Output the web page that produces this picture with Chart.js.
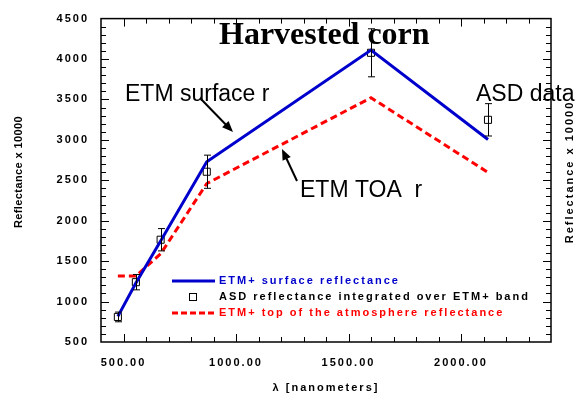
<!DOCTYPE html>
<html><head><meta charset="utf-8">
<script src="https://cdn.jsdelivr.net/npm/chart.js@4/dist/chart.umd.min.js"></script>
<style>html,body{margin:0;padding:0;background:#fff}#wrap{width:578px;height:402px}</style>
</head><body><div id="wrap"><canvas id="c" width="578" height="402"></canvas></div>
<script>
// ---- data ----
const wavelengths = [475, 555, 665, 870, 1600, 2120];
const surfaceRefl = [817, 1230, 1750, 2728, 4110, 3004];
const toaRefl     = [1317, 1317, 1590, 2460, 3521, 2598];
const asdRefl     = [810, 1240, 1765, 2606, 4077, 3248];
const asdErr      = [60, 95, 138, 205, 297, 200];
const xTickValues = [500, 1000, 1500, 2000];
const yTickValues = [500, 1000, 1500, 2000, 2500, 3000, 3500, 4000, 4500];
const legendLabels = ['ETM+ surface reflectance', 'ASD reflectance integrated over ETM+ band', 'ETM+ top of the atmosphere reflectance'];
const yTitle = 'Reflectance x 10000';

const SANS = '"Liberation Sans", Arial, sans-serif';
const SERIF = '"Liberation Serif", "Times New Roman", serif';
const BLUE = '#0000CC', RED = '#FF0000';

function arrow(ctx, x1, y1, x2, y2) {
  const a = Math.atan2(y2 - y1, x2 - x1), L = 11, W = 4.5;
  const c = Math.cos(a), s = Math.sin(a);
  ctx.beginPath(); ctx.moveTo(x1, y1); ctx.lineTo(x2 - L * 0.7 * c, y2 - L * 0.7 * s); ctx.stroke();
  ctx.beginPath(); ctx.moveTo(x2, y2);
  ctx.lineTo(x2 - L * c + W * s, y2 - L * s - W * c);
  ctx.lineTo(x2 - L * c - W * s, y2 - L * s + W * c);
  ctx.closePath(); ctx.fill();
}

const decor = {
  id: 'decor',
  beforeDraw(chart) { chart.ctx.letterSpacing = '2px'; },
  afterDatasetsDraw(chart) {
    const { ctx, scales: { x, y } } = chart;
    ctx.save();
    ctx.strokeStyle = '#000'; ctx.lineWidth = 1;
    wavelengths.forEach((w, i) => {
      const px = Math.round(x.getPixelForValue(w)) + 0.5;
      const y1 = y.getPixelForValue(asdRefl[i] + asdErr[i]);
      const y2 = y.getPixelForValue(asdRefl[i] - asdErr[i]);
      ctx.beginPath();
      ctx.moveTo(px, y1); ctx.lineTo(px, y2);
      ctx.moveTo(px - 3.5, y1); ctx.lineTo(px + 3.5, y1);
      ctx.moveTo(px - 3.5, y2); ctx.lineTo(px + 3.5, y2);
      ctx.stroke();
    });
    ctx.restore();
  },
  afterDraw(chart) {
    const { ctx, chartArea: a, scales: { x, y } } = chart;
    ctx.save();
    ctx.letterSpacing = '0px';
    // inward ticks on all four sides
    ctx.strokeStyle = '#000'; ctx.lineWidth = 1;
    ctx.beginPath();
    for (let v = 500; v < 2400; v += 100) {
      const px = Math.round(x.getPixelForValue(v)) + 0.5;
      const len = v % 500 === 0 ? 8 : 5;
      ctx.moveTo(px, a.bottom); ctx.lineTo(px, a.bottom - len);
      ctx.moveTo(px, a.top); ctx.lineTo(px, a.top + len);
    }
    for (let v = 600; v < 4500; v += 100) {
      const py = Math.round(y.getPixelForValue(v)) + 0.5;
      const len = v % 500 === 0 ? 8 : 5;
      ctx.moveTo(a.left, py); ctx.lineTo(a.left + len, py);
      ctx.moveTo(a.right, py); ctx.lineTo(a.right - len, py);
    }
    ctx.stroke();
    ctx.lineWidth = 1.5;
    ctx.strokeRect(a.left, a.top, a.right - a.left, a.bottom - a.top);

    // legend
    ctx.lineWidth = 3;
    ctx.strokeStyle = BLUE;
    ctx.beginPath(); ctx.moveTo(172, 281); ctx.lineTo(215, 281); ctx.stroke();
    ctx.strokeStyle = RED; ctx.setLineDash([6, 3]);
    ctx.beginPath(); ctx.moveTo(172, 313); ctx.lineTo(215, 313); ctx.stroke();
    ctx.setLineDash([]);
    ctx.strokeStyle = '#000'; ctx.lineWidth = 1;
    ctx.strokeRect(189.5, 293.5, 7, 7);
    ctx.letterSpacing = '2px';
    ctx.font = 'bold 11px ' + SANS;
    ctx.textAlign = 'left'; ctx.textBaseline = 'middle';
    ctx.fillStyle = BLUE; ctx.fillText(legendLabels[0], 219, 281);
    ctx.fillStyle = '#000'; ctx.fillText(legendLabels[1], 219, 297);
    ctx.fillStyle = RED; ctx.fillText(legendLabels[2], 219, 313);

    // axis titles (left and right)
    ctx.textAlign = 'center'; ctx.fillStyle = '#000';
    ctx.save();
    ctx.translate(570, 172); ctx.rotate(-Math.PI / 2);
    ctx.fillText(yTitle, 0, 0);
    ctx.restore();
    ctx.save();
    ctx.letterSpacing = '0.4px';
    ctx.translate(19, 172); ctx.rotate(-Math.PI / 2);
    ctx.fillText(yTitle, 0, 0);
    ctx.restore();

    // annotations
    ctx.letterSpacing = '0px';
    ctx.textAlign = 'left';
    ctx.fillStyle = '#000';
    ctx.textBaseline = 'alphabetic';
    ctx.font = 'bold 32px ' + SERIF;
    ctx.fillText('Harvested corn', 219, 44);
    ctx.font = '23px ' + SANS;
    ctx.fillText('ETM surface r', 125, 100.5);
    ctx.fillText('ASD data', 476, 100.5);
    ctx.fillText('ETM TOA  r', 300, 196.5);
    ctx.strokeStyle = '#000'; ctx.lineWidth = 2;
    arrow(ctx, 200, 98, 233, 132);
    arrow(ctx, 297, 181, 282, 149);
    ctx.restore();
  }
};

new Chart(document.getElementById('c'), {
  type: 'line',
  data: {
    datasets: [
      { label: legendLabels[0], data: wavelengths.map((w, i) => ({ x: w, y: surfaceRefl[i] })),
        borderColor: BLUE, borderWidth: 3, pointRadius: 0, fill: false, tension: 0 },
      { label: legendLabels[2], data: wavelengths.map((w, i) => ({ x: w, y: toaRefl[i] })),
        borderColor: RED, borderWidth: 3, borderDash: [7, 4], pointRadius: 0, fill: false, tension: 0 },
      { label: legendLabels[1], data: wavelengths.map((w, i) => ({ x: w, y: asdRefl[i] })),
        showLine: false, pointStyle: 'rect', pointRadius: 5, borderColor: '#000', borderWidth: 1,
        backgroundColor: 'rgba(0,0,0,0)' }
    ]
  },
  options: {
    responsive: false, animation: false, devicePixelRatio: 1,
    layout: { padding: { top: 13, right: 27, left: 0, bottom: 0 } },
    plugins: { legend: { display: false }, tooltip: { enabled: false } },
    scales: {
      x: {
        type: 'linear', position: 'bottom', min: 400, max: 2400,
        afterBuildTicks: s => { s.ticks = xTickValues.map(v => ({ value: v })); },
        afterFit: s => { s.height = 60; },
        grid: { display: false, drawTicks: false }, border: { display: false },
        ticks: { color: '#000', font: { family: SANS, size: 11, weight: 'bold' }, padding: 14,
          maxRotation: 0, autoSkip: false, callback: v => Number(v).toFixed(2) },
        title: { display: true, text: 'λ [nanometers]', color: '#000',
          font: { family: SANS, size: 11, weight: 'bold' }, padding: { top: 0, bottom: 7 } }
      },
      y: {
        type: 'linear', position: 'left', min: 500, max: 4500,
        afterBuildTicks: s => { s.ticks = yTickValues.map(v => ({ value: v })); },
        afterFit: s => { s.width = 101; },
        grid: { display: false, drawTicks: false }, border: { display: false },
        ticks: { color: '#000', font: { family: SANS, size: 11, weight: 'bold' }, padding: 12,
          autoSkip: false, callback: v => String(v) },
        title: { display: false }
      }
    }
  },
  plugins: [decor]
});
</script></body></html>
